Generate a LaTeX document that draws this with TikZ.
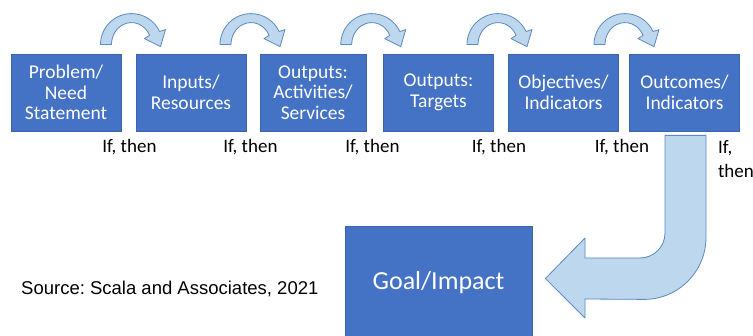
\documentclass[tikz,border=0pt]{standalone}
\usepackage{fontspec}
\setmainfont{Carlito}
\newfontfamily\srcfont{Liberation Sans}
\usetikzlibrary{calc}
\frenchspacing
\definecolor{boxblue}{HTML}{4472C4}
\definecolor{boxline}{HTML}{3A64AE}
\definecolor{arrowfill}{HTML}{BDD7EE}
\definecolor{arrowline}{HTML}{5B89C0}
\tikzset{
  stepbox/.style={draw=boxline, line width=0.8pt, fill=boxblue, text=white,
    minimum width=110pt, minimum height=77pt, align=center, inner sep=0pt,
    font=\fontsize{19.5}{20.5}\selectfont},
  ifthen/.style={inner sep=0pt, font=\fontsize{19}{24}\selectfont},
  hop/.style={draw=arrowline, line width=0.8pt, fill=arrowfill, line join=round},
}
\def\hoparrow(#1){\draw[hop] ($(#1)+(-31,0)$) arc[start angle=180, end angle=25, radius=31pt]
  -- ($(#1)+(34,15)$) -- ($(#1)+(29,-2)$) -- ($(#1)+(13,6)$)
  -- ($(#1)+(18.1,9.3)$) arc[start angle=25, end angle=180, x radius=20pt, y radius=22pt] -- cycle;}

\begin{document}
\begin{tikzpicture}[x=1pt, y=1pt]
		%%%%% START %%%%%
		\useasboundingbox (0, 0) rectangle (753, 335);
		
		\node[stepbox] (b1) at (66, 242.5) {Problem/\\Need\\Statement};
		\node[stepbox] (b2) at (191, 242.5) {Inputs/\\Resources};
		\node[stepbox, minimum width=106pt] (b3) at (313, 242.5) {Outputs:\\Activities/\\Services};
		\node[stepbox] (b4) at (438.5, 242.5) {Outputs:\\Targets};
		\node[stepbox] (b5) at (563.5, 242.5) {Objectives/\\Indicators};
		\node[stepbox] (b6) at (684.5, 242.5) {Outcomes/\\Indicators};
		
		\coordinate (h1) at ($(b1.north east)!0.5!(b2.north west)+(3,9)$);
		\coordinate (h2) at ($(b2.north east)!0.5!(b3.north west)+(-2,9)$);
		\coordinate (h3) at ($(b3.north east)!0.5!(b4.north west)+(-3,9)$);
		\coordinate (h4) at ($(b4.north east)!0.5!(b5.north west)+(-3,9)$);
		\coordinate (h5) at ($(b5.north east)!0.5!(b6.north west)+(1,9)$);
		\foreach \h in {h1,h2,h3,h4,h5} {\hoparrow(\h);}
		
		\node[ifthen] (if1) at ($(b1.south east)+(8,-16)$) {If, then};
		\node[ifthen] (if2) at ($(b2.south east)+(4,-16)$) {If, then};
		\node[ifthen] (if3) at ($(b3.south east)+(6,-16)$) {If, then};
		\node[ifthen] (if4) at ($(b4.south east)+(5,-16)$) {If, then};
		\node[ifthen] (if5) at ($(b5.south east)+(3,-16)$) {If, then};
		\node[ifthen, align=left, anchor=north west] (if6) at ($(b6.south east)+(-22,-9)$) {If,\\then};
		
		\node[stepbox, minimum width=187pt, minimum height=114pt, font=\fontsize{26}{30}\selectfont] (goal) at (438.5, 52) {Goal/Impact};
		
		% bent arrow from the last box down to the goal
		\draw[hop] ($(b6.south)+(-19.5,-4)$) -- ($(b6.south)+(21.5,-4)$) -- ($(b6.south)+(21.5,-106)$)
			arc[start angle=0, end angle=-90, radius=62pt] -- (585, 36) -- (585, 17)
			-- ($(goal.east)+(13,4.5)$) -- (585, 97) -- (585, 77) -- (640, 77)
			arc[start angle=-90, end angle=0, radius=25pt] -- cycle;
		
		\node[anchor=west, inner sep=0pt, font=\srcfont\fontsize{18.5}{22}\selectfont] (src) at (21, 46) {Source: Scala and Associates, 2021};
		%%%%% END %%%%%
\end{tikzpicture}
\end{document}
